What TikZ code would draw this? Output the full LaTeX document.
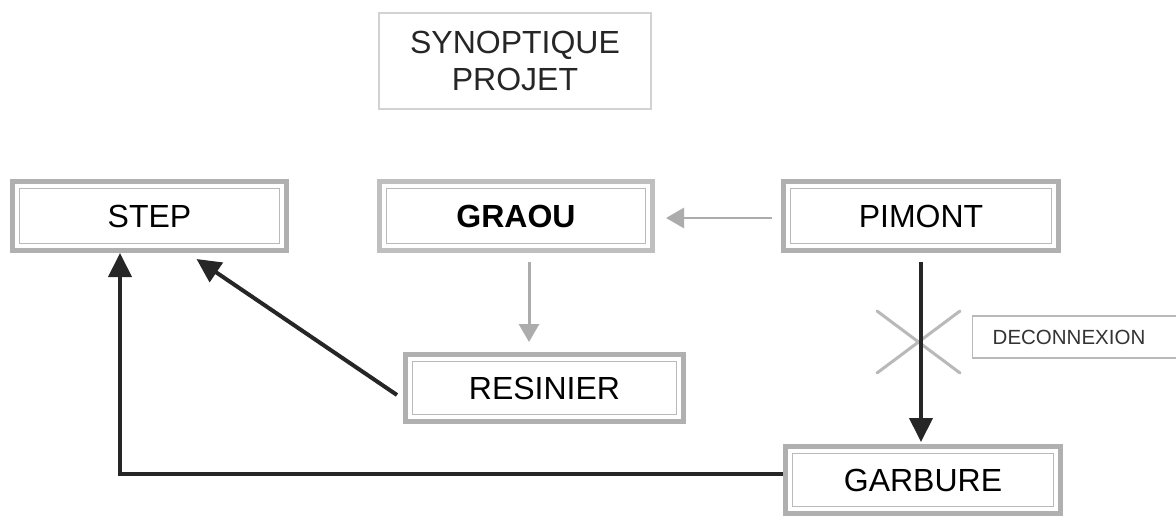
\documentclass[tikz,border=0pt]{standalone}
\usepackage{fontspec}
\setmainfont{Liberation Sans}
\usetikzlibrary{arrows.meta}
\tikzset{
  framebox/.style={draw=gray!62, line width=5pt, fill=white, minimum height=69pt,
    font=\fontsize{32}{38}\selectfont,
    path picture={\draw[gray!55,line width=1.3pt]
      ([shift={(7pt,-7pt)}]path picture bounding box.north west) rectangle
      ([shift={(-7pt,7pt)}]path picture bounding box.south east);}},
  titlebox/.style={draw=gray!35, line width=1.5pt, minimum width=272pt, minimum height=96pt,
    align=center, font=\fontsize{32}{37}\selectfont, text=black!85},
  notebox/.style={draw=gray!55, line width=1.4pt, minimum height=42pt, text width=200pt,
    align=left, inner xsep=20pt, font=\fontsize{20.5}{24}\selectfont, text=black!80},
  blackarrow/.style={draw=black!85, line width=4pt, -{Triangle[length=24pt,width=23pt]}},
  grayarrow/.style={draw=gray!65, line width=3pt, -{Triangle[length=18pt,width=20pt]}},
  crossline/.style={draw=gray!55, line width=3pt, line cap=round}
}
\begin{document}
\begin{tikzpicture}[x=1pt,y=-1pt]
\useasboundingbox (0,0) rectangle (1176,517);
\clip (0,0) rectangle (1176,517);
\fill[white] (0,0) rectangle (1176,517);

\node[titlebox] (title) at (515,61) {SYNOPTIQUE\\PROJET};

\node[framebox, minimum width=274pt] (step) at (149.5,216) {STEP};
\node[framebox, draw=gray!50, minimum width=273pt, font=\fontsize{32}{38}\selectfont\bfseries] (graou) at (516,216) {GRAOU};
\node[framebox, minimum width=275pt] (pimont) at (921,216) {PIMONT};
\node[framebox, minimum width=278pt, minimum height=67pt] (resinier) at (544.5,388) {RESINIER};
\node[framebox, minimum width=275pt, minimum height=67pt] (garbure) at (923,480) {GARBURE};

\node[notebox, anchor=west] (deco) at (972,337) {DECONNEXION};

% disconnection cross
\coordinate (c1) at (877,311);
\coordinate (c2) at (960,373);
\coordinate (c3) at (877,373);
\coordinate (c4) at (960,311);
\draw[crossline] (c1) -- (c2);
\draw[crossline] (c3) -- (c4);

% connectors
\draw[grayarrow, line width=2.5pt] ([xshift=-9pt,yshift=-2pt]pimont.west) -- ([xshift=11pt,yshift=-2pt]graou.east);
\draw[grayarrow] ([xshift=13pt,yshift=-9pt]graou.south) -- ([xshift=-15.5pt,yshift=10pt]resinier.north);
\draw[blackarrow] ([yshift=-9pt]pimont.south) -- ([yshift=2pt]pimont.south |- garbure.north);
\draw[blackarrow] ([shift={(-6pt,-7pt)}]resinier.west) -- ([shift={(47pt,-6pt)}]step.south);
\draw[blackarrow] ([yshift=6pt]garbure.west) -| ([xshift=-29.5pt]step.south);
\end{tikzpicture}
\end{document}
